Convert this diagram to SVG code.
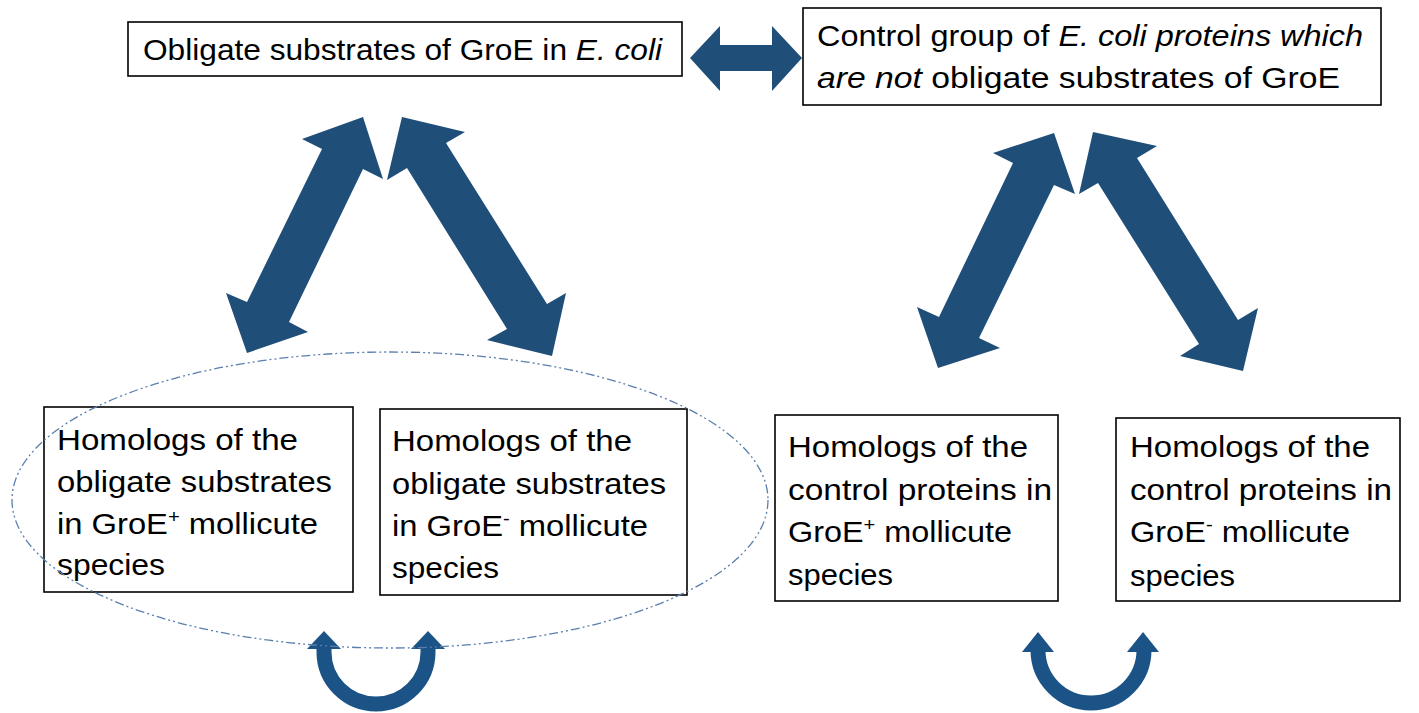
<svg xmlns="http://www.w3.org/2000/svg" width="1419" height="713" viewBox="0 0 1419 713">
<style>
.box{fill:#fff;stroke:#000;stroke-width:1.6}
.t{font-family:"Liberation Sans",Arial,sans-serif;font-size:29px;fill:#000}
.i{font-style:italic}
.arr{fill:#1F4E79}
.u{fill:none;stroke:#1B5387;stroke-width:15}
.uh{fill:#1B5387}
.ell{fill:none;stroke:#5A7FAD;stroke-width:1.3;stroke-dasharray:9 3 2 3 2 3}
</style>
<g id="connectors">
<polygon class="arr" points="690,58 720,26 720,45 772,45 772,26 802,58 772,91 772,71 720,71 720,91"/>
<polygon class="arr" points="363,117 383,179 363,169 289,322 308,332 247,353 226,293 247,302 322,149 302,139"/>
<polygon class="arr" points="402,117 465,132 446,143 547,304 566,293 552,356 487,340 507,329 407,168 387,180"/>
<polygon class="arr" points="1054,133 1075,194 1054,185 979,338 1000,348 938,368 917,307 939,317 1013,163 993,153"/>
<polygon class="arr" points="1093,132 1157,146 1137,158 1238,320 1258,308 1243,371 1180,356 1199,344 1098,183 1079,194"/>
<path class="u" d="M324,646 L324,652 A52,52 0 0 0 428,652 L428,646"/>
<polygon class="uh" points="324,631 341,649 307,649"/>
<polygon class="uh" points="428,631 445,649 411,649"/>
<path class="u" d="M1038,650 A53,53 0 0 0 1144,650"/>
<polygon class="uh" points="1038,632 1054,652 1022,652"/>
<polygon class="uh" points="1143,632 1159,652 1127,652"/>
</g>
<g id="node-obligate">
<rect class="box" x="128" y="22" width="554" height="54"/>
<text class="t" x="143" y="60" textLength="519" lengthAdjust="spacingAndGlyphs">Obligate substrates of GroE in <tspan class="i">E. coli</tspan></text>
</g>
<g id="node-control">
<rect class="box" x="803" y="8" width="578" height="97"/>
<text class="t" x="817" y="46" textLength="546" lengthAdjust="spacingAndGlyphs">Control group of <tspan class="i">E. coli proteins which</tspan></text>
<text class="t" x="817" y="88" textLength="523" lengthAdjust="spacingAndGlyphs"><tspan class="i">are not</tspan> obligate substrates of GroE</text>
</g>
<g id="node-obl-plus">
<rect class="box" x="44" y="407" width="309" height="185"/>
<text class="t" x="57" y="450" textLength="241" lengthAdjust="spacingAndGlyphs">Homologs of the</text>
<text class="t" x="57" y="492" textLength="275" lengthAdjust="spacingAndGlyphs">obligate substrates</text>
<text class="t" x="57" y="534" textLength="261" lengthAdjust="spacingAndGlyphs">in GroE<tspan font-size="18" dy="-11">+</tspan><tspan dy="11"> mollicute</tspan></text>
<text class="t" x="57" y="575" textLength="108" lengthAdjust="spacingAndGlyphs">species</text>
</g>
<g id="node-obl-minus">
<rect class="box" x="380" y="409" width="307" height="186"/>
<text class="t" x="392" y="451" textLength="240" lengthAdjust="spacingAndGlyphs">Homologs of the</text>
<text class="t" x="392" y="494" textLength="274" lengthAdjust="spacingAndGlyphs">obligate substrates</text>
<text class="t" x="392" y="536" textLength="256" lengthAdjust="spacingAndGlyphs">in GroE<tspan font-size="18" dy="-11">-</tspan><tspan dy="11"> mollicute</tspan></text>
<text class="t" x="392" y="578" textLength="107" lengthAdjust="spacingAndGlyphs">species</text>
</g>
<g id="node-ctl-plus">
<rect class="box" x="775" y="415" width="283" height="186"/>
<text class="t" x="788" y="457" textLength="240" lengthAdjust="spacingAndGlyphs">Homologs of the</text>
<text class="t" x="788" y="500" textLength="264" lengthAdjust="spacingAndGlyphs">control proteins in</text>
<text class="t" x="788" y="542" textLength="224" lengthAdjust="spacingAndGlyphs">GroE<tspan font-size="18" dy="-11">+</tspan><tspan dy="11"> mollicute</tspan></text>
<text class="t" x="788" y="585" textLength="105" lengthAdjust="spacingAndGlyphs">species</text>
</g>
<g id="node-ctl-minus">
<rect class="box" x="1116" y="418" width="284" height="183"/>
<text class="t" x="1130" y="457" textLength="240" lengthAdjust="spacingAndGlyphs">Homologs of the</text>
<text class="t" x="1130" y="500" textLength="262" lengthAdjust="spacingAndGlyphs">control proteins in</text>
<text class="t" x="1130" y="542" textLength="220" lengthAdjust="spacingAndGlyphs">GroE<tspan font-size="18" dy="-11">-</tspan><tspan dy="11"> mollicute</tspan></text>
<text class="t" x="1130" y="586" textLength="105" lengthAdjust="spacingAndGlyphs">species</text>
</g>
<g id="group-ellipse">
<ellipse class="ell" cx="390" cy="500" rx="378" ry="148"/>
</g>
</svg>
